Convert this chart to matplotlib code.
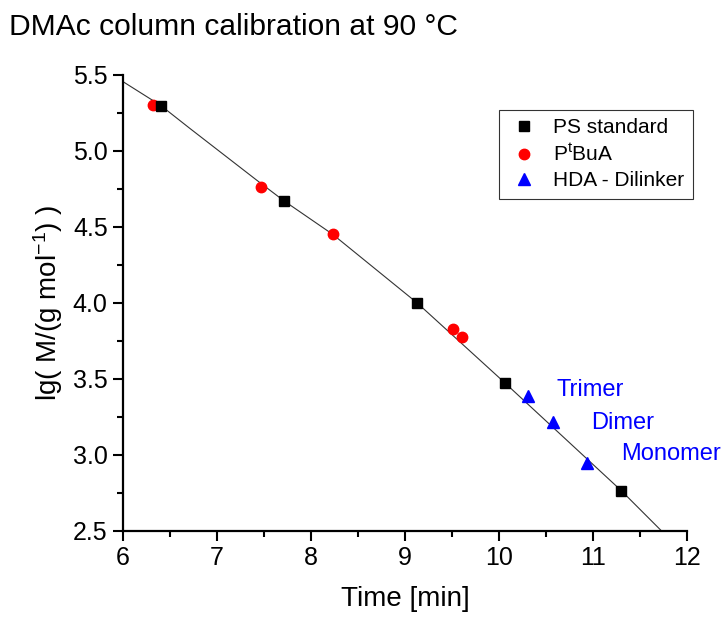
import matplotlib
matplotlib.use("Agg")
import matplotlib.pyplot as plt
from matplotlib.ticker import MultipleLocator

plt.rcParams['font.family'] = ['Liberation Sans', 'DejaVu Sans']
plt.rcParams['mathtext.fontset'] = 'custom'
plt.rcParams['mathtext.rm'] = 'Liberation Sans'
plt.rcParams['mathtext.it'] = 'Liberation Sans:italic'

# PS standards
ps_time = [6.40, 7.71, 9.13, 10.06, 11.30]
ps_lgM = [5.295, 4.673, 4.00, 3.476, 2.766]

# PtBuA
ptbua_time = [6.32, 7.47, 8.23, 9.51, 9.61]
ptbua_lgM = [5.30, 4.765, 4.452, 3.829, 3.774]

# HDA - Dilinker
hda_time = [10.31, 10.58, 10.94]
hda_lgM = [3.388, 3.215, 2.950]
hda_names = ['Trimer', 'Dimer', 'Monomer']
hda_label_x = [10.61, 10.985, 11.295]
hda_label_y = [3.428, 3.208, 3.007]

# calibration curve
fit_time = [6.0, 6.40, 6.71, 7.42, 7.71, 8.23, 9.13, 10.06, 11.30, 11.73]
fit_lgM = [5.456, 5.300, 5.149, 4.809, 4.673, 4.452, 4.00, 3.476, 2.766, 2.50]

fig = plt.figure(figsize=(7.21, 6.18), dpi=100)
ax = fig.add_axes([0.1706, 0.1408, 0.7822, 0.7379])

ax.plot(fit_time, fit_lgM, color='#333333', lw=0.8, zorder=1)
ax.plot(ps_time, ps_lgM, 's', color='black', ms=7, label='PS standard', zorder=3)
ax.plot(ptbua_time, ptbua_lgM, 'o', color='red', ms=7.5, label=r'P$^{\mathrm{t}}$BuA', zorder=2)
ax.plot(hda_time, hda_lgM, '^', color='blue', ms=8, label='HDA - Dilinker', zorder=3)

for name, tx, ty in zip(hda_names, hda_label_x, hda_label_y):
    ax.text(tx, ty, name, color='blue', fontsize=17, va='center', ha='left')

ax.set_xlim(6, 12)
ax.set_ylim(2.5, 5.5)
ax.xaxis.set_major_locator(MultipleLocator(1))
ax.xaxis.set_minor_locator(MultipleLocator(0.5))
ax.yaxis.set_major_locator(MultipleLocator(0.5))
ax.yaxis.set_minor_locator(MultipleLocator(0.25))
ax.yaxis.set_major_formatter(matplotlib.ticker.FormatStrFormatter('%.1f'))

for s in ['top', 'right']:
    ax.spines[s].set_visible(False)
for s in ['left', 'bottom']:
    ax.spines[s].set_linewidth(1.6)

ax.tick_params(axis='both', which='major', direction='out', length=7, width=1.5,
               labelsize=18, pad=4)
ax.tick_params(axis='both', which='minor', direction='out', length=4, width=1.5)

ax.set_xlabel('Time [min]', fontsize=20, labelpad=11)
ax.set_ylabel(r'lg( M/(g mol$^{\mathrm{-1}}$) )', fontsize=20, labelpad=6)

leg = ax.legend(loc='upper right', bbox_to_anchor=(1.0106, 0.923), borderaxespad=0,
                fontsize=15, frameon=True, fancybox=False, edgecolor='black',
                handletextpad=0.6, borderpad=0.4, labelspacing=0.3, handlelength=1.6)
leg.get_frame().set_linewidth(0.8)

fig.text(0.013, 0.957, 'DMAc column calibration at 90 \u00b0C', fontsize=21.6,
         ha='left', va='center')

fig.savefig('out.png', dpi=100, facecolor='white')
